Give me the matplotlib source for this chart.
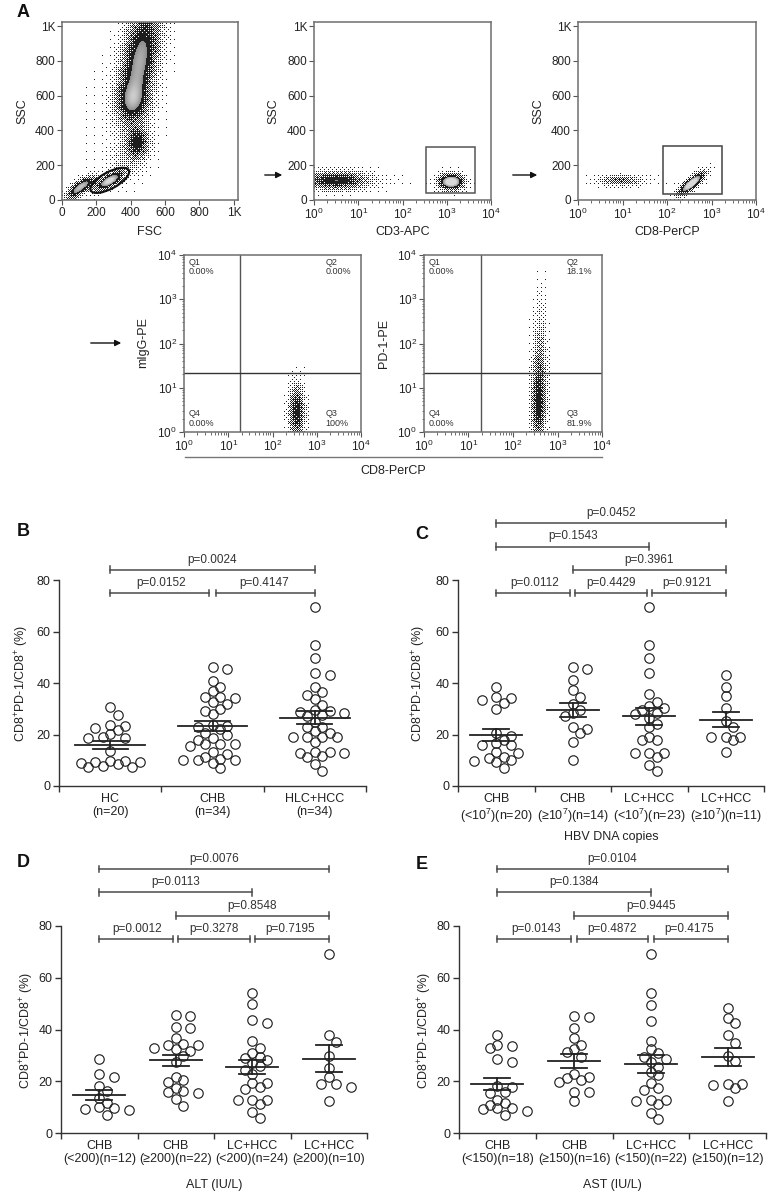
import numpy as np
import matplotlib
matplotlib.use('Agg')
import matplotlib.pyplot as plt
from matplotlib.patches import Ellipse, Rectangle, FancyArrowPatch
from matplotlib.lines import Line2D

plt.rcParams['font.family'] = ['Liberation Sans', 'DejaVu Sans']
plt.rcParams['mathtext.fontset'] = 'custom'
plt.rcParams['mathtext.rm'] = 'Liberation Sans'
plt.rcParams['mathtext.default'] = 'regular'

W, H = 778, 1198
INK = '#222222'

# ---------------- flow cytometry populations (amp, cx, cy, sx, sy, angle) ----------------
fsc_pops = [(1.7, 275, 110, 55, 22, 30),
            (1.25, 90, 60, 50, 22, 40),
            (0.7, 150, 100, 40, 20, 30),
            (1.3, 452, 800, 62, 200, -10),
            (0.8, 410, 570, 58, 75, -5),
            (1.0, 440, 330, 42, 58, 0),
            (0.2, 370, 220, 60, 60, 0),
            (0.015, 350, 450, 220, 320, 0)]
cd3_pops = [(1.1, 0.5, 112, 0.45, 33, 0),
            (2.0, 3.1, 105, 0.17, 27, 0),
            (0.02, 1.6, 110, 0.6, 25, 0)]
cd8_pops = [(0.6, 0.95, 112, 0.32, 20, 0),
            (2.0, 2.55, 95, 0.22, 18, 40),
            (0.015, 1.8, 100, 0.6, 25, 0)]
migg_pops = [(1.0, 2.55, 0.45, 0.11, 0.38, 0)]
pd1_pops = [(1.0, 2.55, 0.6, 0.1, 0.5, 0),
            (0.45, 2.58, 1.6, 0.1, 0.5, 0),
            (0.12, 2.6, 2.7, 0.1, 0.45, 0)]

lymph_gate = (278, 113, 250, 95, 28)
cd3_gate = (2.53, 40, 3.64, 305)
cd8_gate = (1.91, 35, 3.24, 311)
migg_quad = (1.27, 1.33)
pd1_quad = (1.28, 1.33)
migg_pct = ['0.00%', '0.00%', '100%', '0.00%']   # Q1 Q2 Q3 Q4
pd1_pct = ['0.00%', '18.1%', '81.9%', '0.00%']

# ---------------- scatter data ----------------
b_labels = ['HC\n(n=20)', 'CHB\n(n=34)', 'HLC+HCC\n(n=34)']
b_hc = [30.7, 27.7, 23.5, 23.3, 22.4, 21.7, 20.3, 18.9, 18.5, 18.8, 13.7, 9.1, 9.8, 7.8, 9.4, 7.2, 9.2, 7.5, 9.8, 8.5]
b_chb = [45.5, 46.1, 40.9, 38.3, 37.0, 34.7, 34.3, 34.4, 31.7, 32.7, 29.0, 29.9, 27.8, 23.3, 23.0, 23.7, 22.0,
         19.8, 20.7, 18.8, 17.9, 16.3, 16.3, 16.3, 15.7, 13.3, 12.4, 11.4, 10.1, 10.1, 10.3, 10.1, 9.1, 6.9]
b_lchcc = [69.6, 54.7, 49.9, 44.0, 43.1, 38.3, 36.5, 35.3, 33.6, 31.5, 29.5, 29.1, 28.6, 28.2, 27.6, 27.0, 25.0,
           23.0, 23.0, 21.5, 19.1, 19.1, 19.1, 20.5, 17.2, 19.0, 13.3, 13.3, 12.9, 12.7, 11.6, 11.4, 8.4, 6.0]
b_pvals = [(0, 1, 'p=0.0152'), (1, 2, 'p=0.4147'), (0, 2, 'p=0.0024')]

c_labels = ['CHB\n(<10$^7$)(n=20)', 'CHB\n(\u226510$^7$)(n=14)', 'LC+HCC\n(<10$^7$)(n=23)', 'LC+HCC\n(\u226510$^7$)(n=11)']
c_1 = [38.5, 34.5, 34.3, 33.4, 32.4, 30.0, 20.4, 19.5, 17.9, 16.6, 15.9, 15.9, 13.3, 12.9, 11.4, 10.7, 10.1, 9.8, 9.2, 6.9]
c_2 = [46.1, 45.4, 41.1, 37.3, 34.7, 31.7, 29.5, 28.2, 27.0, 23.0, 22.0, 20.7, 17.2, 10.1]
c_3 = [69.6, 54.7, 49.9, 43.7, 35.7, 32.7, 31.0, 30.1, 29.5, 28.2, 28.0, 26.3, 24.1, 22.8, 19.1, 17.9, 17.9,
       12.7, 12.7, 12.7, 11.4, 8.2, 5.8]
c_4 = [43.1, 38.3, 35.1, 30.1, 25.4, 23.0, 19.1, 19.1, 19.1, 17.9, 13.3]
c_pvals = [(0, 1, 'p=0.0112'), (1, 2, 'p=0.4429'), (2, 3, 'p=0.9121'),
           (1, 3, 'p=0.3961'), (0, 2, 'p=0.1543'), (0, 3, 'p=0.0452')]

d_labels = ['CHB\n(<200)(n=12)', 'CHB\n(\u2265200)(n=22)', 'LC+HCC\n(<200)(n=24)', 'LC+HCC\n(\u2265200)(n=10)']
d_1 = [28.6, 21.8, 22.7, 18.2, 16.4, 13.4, 11.5, 9.3, 9.9, 9.5, 8.9, 7.0]
d_2 = [45.3, 45.7, 40.5, 40.8, 36.9, 34.1, 34.1, 34.3, 33.0, 31.5, 32.4, 29.8, 27.6, 20.5, 21.8, 19.9, 17.5,
       15.4, 16.3, 16.0, 13.0, 10.6]
d_3 = [54.1, 49.8, 43.5, 42.7, 35.6, 32.8, 30.8, 28.9, 27.2, 29.5, 28.3, 25.9, 24.5, 22.8, 19.2, 19.2, 17.9,
       16.9, 12.8, 11.2, 12.8, 12.8, 8.3, 5.7]
d_4 = [69.2, 37.9, 35.1, 29.9, 25.0, 21.8, 19.0, 19.0, 17.9, 12.4]
d_pvals = [(0, 1, 'p=0.0012'), (1, 2, 'p=0.3278'), (2, 3, 'p=0.7195'),
           (1, 3, 'p=0.8548'), (0, 2, 'p=0.0113'), (0, 3, 'p=0.0076')]

e_labels = ['CHB\n(<150)(n=18)', 'CHB\n(\u2265150)(n=16)', 'LC+HCC\n(<150)(n=22)', 'LC+HCC\n(\u2265150)(n=12)']
e_1 = [37.9, 34.1, 32.8, 33.8, 27.6, 28.5, 15.4, 17.9, 18.2, 16.0, 12.8, 11.5, 10.8, 9.3, 9.5, 9.5, 8.6, 7.0]
e_2 = [45.0, 45.4, 40.5, 36.6, 34.1, 32.4, 31.2, 29.5, 22.7, 21.8, 21.4, 20.5, 19.9, 16.0, 15.7, 12.5]
e_3 = [69.2, 54.1, 49.5, 43.4, 35.6, 32.4, 30.8, 29.5, 27.4, 28.5, 25.7, 23.7, 22.5, 19.2, 17.3, 16.6, 12.8,
       11.2, 12.4, 12.8, 7.9, 5.4]
e_4 = [48.5, 44.6, 42.5, 37.7, 34.7, 29.8, 28.0, 18.8, 18.8, 18.6, 17.3, 12.4]
e_pvals = [(0, 1, 'p=0.0143'), (1, 2, 'p=0.4872'), (2, 3, 'p=0.4175'),
           (1, 3, 'p=0.9445'), (0, 2, 'p=0.1384'), (0, 3, 'p=0.0104')]

ylab = 'CD8$^{+}$PD-1/CD8$^{+}$ (%)'

fig = plt.figure(figsize=(W / 100, H / 100), dpi=100)


def box(l, t, r, b):
    return [l / W, 1 - b / H, (r - l) / W, (b - t) / H]


def ftext(x, y, s, **kw):
    fig.text(x / W, 1 - y / H, s, color=INK, **kw)


def bayer(n):
    m = np.array([[0]])
    while m.shape[0] < n:
        m = np.block([[4 * m, 4 * m + 2], [4 * m + 3, 4 * m + 1]])
    return (m + 0.5) / m.size


def flow_image(ax, pops, xr, yr):
    bb = ax.get_position()
    nx, ny = int(round(bb.width * W)), int(round(bb.height * H))
    xs = xr[0] + (np.arange(nx) + 0.5) * (xr[1] - xr[0]) / nx
    ys = yr[0] + (np.arange(ny) + 0.5) * (yr[1] - yr[0]) / ny
    X, Y = np.meshgrid(xs, ys)
    xspan, yspan = xr[1] - xr[0], yr[1] - yr[0]
    d = np.zeros_like(X)
    for amp, cx, cy, sx, sy, ang in pops:
        t = np.deg2rad(ang)
        dx = (X - cx) / xspan
        dy = (Y - cy) / yspan
        a = dx * np.cos(t) + dy * np.sin(t)
        b = -dx * np.sin(t) + dy * np.cos(t)
        d += amp * np.exp(-0.5 * ((a / (sx / xspan)) ** 2 + (b / (sy / yspan)) ** 2))
    th = np.tile(bayer(8), (ny // 8 + 1, nx // 8 + 1))[:ny, :nx]
    img = np.ones((ny, nx, 3))
    img[d > th] = 0.12
    core = d > 1.1
    shade = 0.55 + 0.3 * np.clip((d - 1.1) / 0.5, 0, 1)
    img[core] = shade[core][:, None]
    ax.imshow(img, extent=(xr[0], xr[1], yr[0], yr[1]), origin='lower', aspect='auto',
              interpolation='nearest', zorder=0)


def flow_axis(axis, kind):
    if kind == 'lin':
        axis.set_ticks([0, 200, 400, 600, 800, 1000])
        axis.set_ticklabels(['0', '200', '400', '600', '800', '1K'])
    else:
        axis.set_ticks(range(5))
        axis.set_ticklabels([r'10$^{%d}$' % k for k in range(5)])
        axis.set_ticks([k + np.log10(m) for k in range(4) for m in range(2, 10)], minor=True)


def flow_axes(rect, xk, yk, pops):
    ax = fig.add_axes(rect)
    xr = (0, 1024) if xk == 'lin' else (0, 4)
    yr = (0, 1024) if yk == 'lin' else (0, 4)
    ax.set_xlim(*xr)
    ax.set_ylim(*yr)
    flow_axis(ax.xaxis, xk)
    flow_axis(ax.yaxis, yk)
    for s in ax.spines.values():
        s.set_color('#6e6e6e')
        s.set_linewidth(1.1)
    ax.tick_params(which='major', direction='out', length=3.5, width=0.8, color='#555555',
                   labelsize=8.5, pad=1.5, labelcolor=INK)
    ax.tick_params(which='minor', direction='out', length=1.8, width=0.6, color='#555555')
    flow_image(ax, pops, xr, yr)
    return ax


# ---------------- panel A ----------------
ax1 = flow_axes(box(62, 22, 238, 200), 'lin', 'lin', fsc_pops)
cx, cy, ew, eh, ea = lymph_gate
ax1.add_patch(Ellipse((cx, cy), ew, eh, angle=ea, fill=False, ec='#111111', lw=1.6))

ax2 = flow_axes(box(314, 22, 491, 200), 'log', 'lin', cd3_pops)
x0, y0, x1, y1 = cd3_gate
ax2.add_patch(Rectangle((x0, y0), x1 - x0, y1 - y0, fill=False, ec='#555555', lw=1.1))

ax3 = flow_axes(box(578, 22, 756, 200), 'log', 'lin', cd8_pops)
x0, y0, x1, y1 = cd8_gate
ax3.add_patch(Rectangle((x0, y0), x1 - x0, y1 - y0, fill=False, ec='#444444', lw=1.1))

for rect, pops, quad, pct in [(box(184, 255, 361, 432), migg_pops, migg_quad, migg_pct),
                              (box(424, 255, 602, 432), pd1_pops, pd1_quad, pd1_pct)]:
    ax = flow_axes(rect, 'log', 'log', pops)
    ax.axvline(quad[0], color='#555555', lw=1)
    ax.axhline(quad[1], color='#333333', lw=1)
    kw = dict(fontsize=6.5, color='#333333', linespacing=1.05)
    ax.text(0.11, 3.93, 'Q1\n' + pct[0], ha='left', va='top', **kw)
    ax.text(3.2, 3.93, 'Q2\n' + pct[1], ha='left', va='top', **kw)
    ax.text(3.2, 0.1, 'Q3\n' + pct[2], ha='left', va='bottom', **kw)
    ax.text(0.11, 0.1, 'Q4\n' + pct[3], ha='left', va='bottom', **kw)

for x, y, s in [(22, 111, 'SSC'), (273, 111, 'SSC'), (538, 111, 'SSC'),
                (143, 343, 'mIgG-PE'), (384, 343, 'PD-1-PE')]:
    ftext(x, y, s, fontsize=9, rotation=90, ha='center', va='center')
for x, y, s in [(150, 232, 'FSC'), (403, 232, 'CD3-APC'), (667, 232, 'CD8-PerCP'), (393, 471, 'CD8-PerCP')]:
    ftext(x, y, s, fontsize=9, ha='center', va='center')
fig.add_artist(Line2D([185 / W, 602 / W], [1 - 457 / H] * 2, color='#777777', lw=1))

for xa, xb, y in [(262, 285, 175), (510, 540, 175), (88, 124, 343)]:
    fig.add_artist(FancyArrowPatch((xa / W, 1 - y / H), (xb / W, 1 - y / H), transform=fig.transFigure,
                                   arrowstyle='-|>', mutation_scale=9, color='#111111', lw=1))


# ---------------- panels B-E ----------------
def swarm(vals, ppx, ppy, diam, step):
    vals = np.asarray(vals, float)
    placed = []
    offs = np.zeros(len(vals))
    order = [0] + [s * j for j in range(1, 20) for s in (1, -1)]
    for i in np.argsort(-vals):
        y = vals[i] * ppy
        for k in order:
            x = k * step
            if all((x - px) ** 2 + (y - py) ** 2 >= (0.84 * diam) ** 2 for px, py in placed):
                break
        offs[i] = x / ppx
        placed.append((x, y))
    return offs


def dot_panel(rect, groups, labels, pvals):
    ax = fig.add_axes(rect)
    n = len(groups)
    ax.set_xlim(-0.5, n - 0.5)
    ax.set_ylim(0, 80)
    bb = ax.get_position()
    ppx = bb.width * W / n
    ppy = bb.height * H / 80
    ms = 6.8
    diam = ms * 100 / 72
    for i, g in enumerate(groups):
        g = np.asarray(g, float)
        xo = swarm(g, ppx, ppy, diam, 0.78 * diam)
        ax.plot(i + xo, g, 'o', ms=ms, mfc='none', mec=INK, mew=0.85, clip_on=False, zorder=2)
        m = g.mean()
        se = g.std(ddof=1) / np.sqrt(len(g))
        ax.plot([i - 0.34, i + 0.34], [m, m], color=INK, lw=1.3, zorder=3)
        ax.plot([i - 0.17, i + 0.17], [m + se, m + se], color=INK, lw=1.3, zorder=3)
        ax.plot([i - 0.17, i + 0.17], [m - se, m - se], color=INK, lw=1.3, zorder=3)
        ax.plot([i, i], [m - se, m + se], color=INK, lw=1.3, zorder=3)
    level = 0
    for a, b, lab in pvals:
        if b - a == 1:
            lv = 0
        else:
            level += 1
            lv = level
        y = 75 + 9 * lv
        xa, xb = float(a), float(b)
        if b - a == 1:
            if 0 < a:
                xa += 0.035
            if b < n - 1:
                xb -= 0.035
        kw = dict(color='#4a4a4a', lw=1.1, clip_on=False)
        ax.plot([xa, xb], [y, y], **kw)
        ax.plot([xa, xa], [y - 1.3, y + 1.3], **kw)
        ax.plot([xb, xb], [y - 1.3, y + 1.3], **kw)
        ax.text((a + b) / 2, y + 1.6, lab, ha='center', va='bottom', fontsize=8.5, color='#333333')
    for s in ['top', 'right']:
        ax.spines[s].set_visible(False)
    for s in ['left', 'bottom']:
        ax.spines[s].set_color('#333333')
        ax.spines[s].set_linewidth(1)
    ax.set_yticks([0, 20, 40, 60, 80])
    ax.set_xticks(range(n))
    ax.set_xticklabels(labels, linespacing=1.15)
    ax.set_xticks(np.arange(n + 1) - 0.5, minor=True)
    ax.tick_params(axis='x', which='major', length=0, pad=5, labelsize=9, labelcolor=INK)
    ax.tick_params(axis='x', which='minor', direction='out', length=4, width=1, color='#333333')
    ax.tick_params(axis='y', direction='out', length=4, width=1, color='#333333', labelsize=9,
                   labelcolor=INK, pad=2)
    return ax


dot_panel(box(59, 580, 366, 786), [b_hc, b_chb, b_lchcc], b_labels, b_pvals)
dot_panel(box(458, 580, 764, 786), [c_1, c_2, c_3, c_4], c_labels, c_pvals)
dot_panel(box(61, 926, 367, 1133), [d_1, d_2, d_3, d_4], d_labels, d_pvals)
dot_panel(box(459, 926, 766, 1133), [e_1, e_2, e_3, e_4], e_labels, e_pvals)

for x, y in [(22, 683), (419, 683), (27, 1030), (425, 1030)]:
    ftext(x, y, ylab, fontsize=9, rotation=90, ha='center', va='center')
ftext(611, 837, 'HBV DNA copies', fontsize=9, ha='center', va='center')
ftext(214, 1185, 'ALT (IU/L)', fontsize=9, ha='center', va='center')
ftext(612, 1185, 'AST (IU/L)', fontsize=9, ha='center', va='center')

lab_font = ['Liberation Sans Narrow', 'Liberation Sans', 'DejaVu Sans']
for x, y, s in [(17, 4, 'A'), (17, 523, 'B'), (415, 526, 'C'), (17, 854, 'D'), (416, 856, 'E')]:
    fig.text(x / W, 1 - y / H, s, fontsize=13, fontweight='bold', family=lab_font,
             ha='left', va='top', color='#111111')

fig.savefig('out.png', dpi=100)
